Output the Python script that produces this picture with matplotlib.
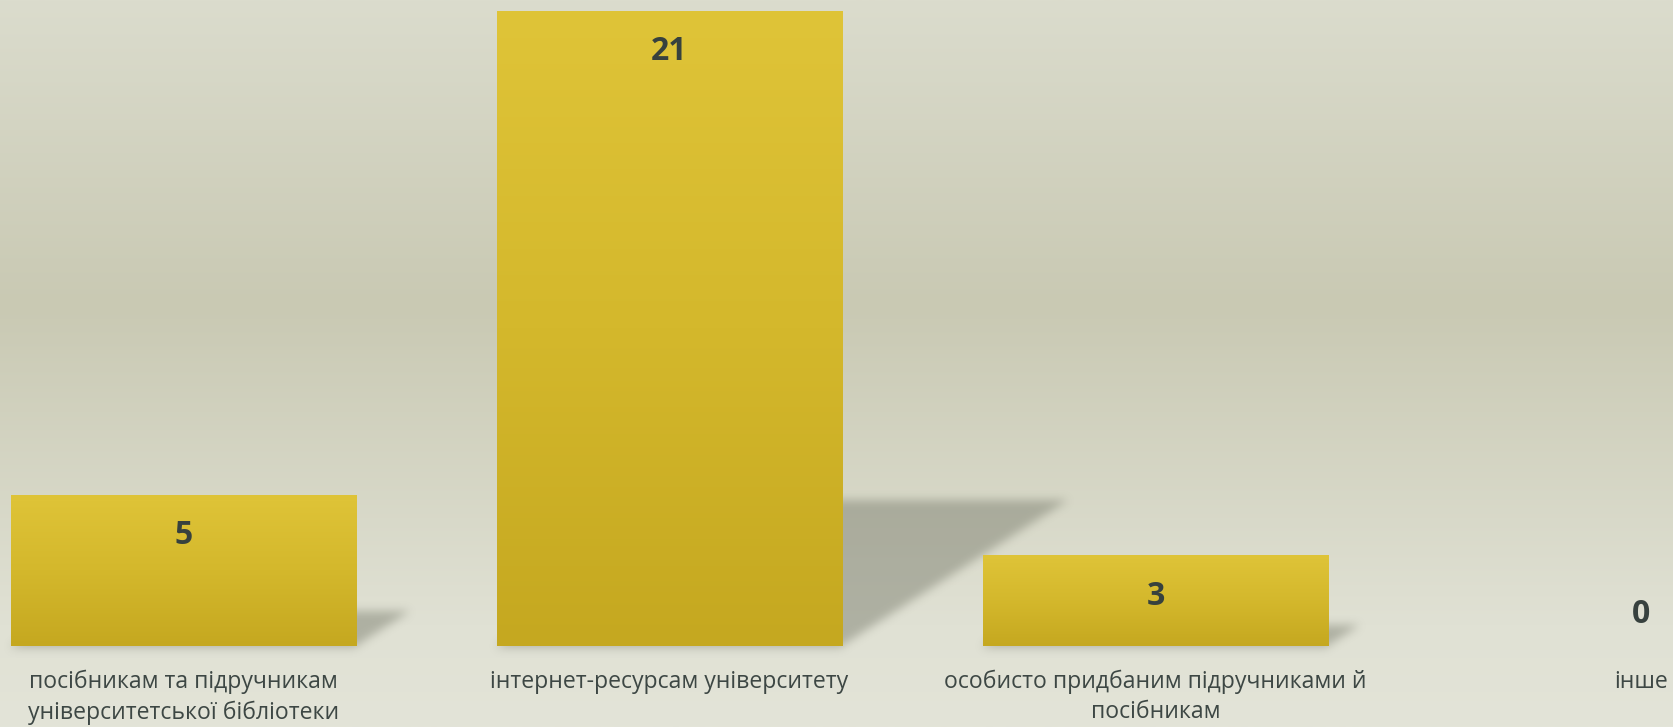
import matplotlib
matplotlib.use("Agg")
import matplotlib.pyplot as plt
from matplotlib.colors import LinearSegmentedColormap
from matplotlib.path import Path
import numpy as np


categories = [
    "посібникам та підручникам\nуніверситетської бібліотеки",
    "інтернет-ресурсам університету",
    "особисто придбаним підручниками й\nпосібникам",
    "інше",
]
values = [5, 21, 3, 0]

W, H, DPI = 1673, 727, 100
XLIM = (-0.3776, 3.065)
YLIM = (-2.68, 21.36)
BAR_W = 0.71
FONT = "Open Sans"
TEXT_COLOR = "#3d4744"


def box_blur(img, r, axis):
    pad = [(0, 0), (0, 0)]
    pad[axis] = (r + 1, r)
    p = np.pad(img, pad, mode="edge")
    c = np.cumsum(p, axis=axis)
    if axis == 0:
        return (c[2 * r + 1:, :] - c[:-2 * r - 1, :]) / (2 * r + 1)
    return (c[:, 2 * r + 1:] - c[:, :-2 * r - 1]) / (2 * r + 1)


def main():
    fig = plt.figure(figsize=(W / DPI, H / DPI), dpi=DPI)

    # background gradient
    bg = fig.add_axes([0, 0, 1, 1], zorder=0)
    bg.axis("off")
    bg_cmap = LinearSegmentedColormap.from_list(
        "bg",
        [(0.0, "#dbdccd"), (0.42, "#c9c9b3"), (0.86, "#e0e1d4"), (1.0, "#e3e4d8")],
    )
    grad = np.linspace(0, 1, 256).reshape(-1, 1)
    bg.imshow(grad, cmap=bg_cmap, aspect="auto", extent=[0, 1, 1, 0])
    bg.set_xlim(0, 1)
    bg.set_ylim(1, 0)

    ax = fig.add_axes([0, 0, 1, 1], zorder=1)
    ax.set_xlim(*XLIM)
    ax.set_ylim(*YLIM)
    ax.axis("off")
    ax.patch.set_alpha(0)

    x = np.arange(len(categories))

    # perspective shadows (blurred)
    xs = np.linspace(XLIM[0], XLIM[1], W)
    ys = np.linspace(YLIM[1], YLIM[0], H)
    gx, gy = np.meshgrid(xs, ys)
    pts = np.column_stack([gx.ravel(), gy.ravel()])
    mask = np.zeros(gx.size)
    for xi, v in zip(x, values):
        if v <= 0:
            continue
        x0, x1 = xi - BAR_W / 2, xi + BAR_W / 2
        dx = 0.0222 * v
        dy = 0.23 * v
        poly = Path([(x0, 0), (x1, 0), (x1 + dx, dy), (x0 + dx, dy), (x0, 0)])
        mask = np.maximum(mask, poly.contains_points(pts).astype(float))
        under = Path([(x0, -0.12), (x1, -0.12), (x1, 0), (x0, 0), (x0, -0.12)])
        mask = np.maximum(mask, 0.35 * under.contains_points(pts))
    mask = mask.reshape(H, W)
    for _ in range(3):
        mask = box_blur(mask, 4, 0)
        mask = box_blur(mask, 4, 1)
    shadow = np.zeros((H, W, 4))
    shadow[..., 0] = 0.45
    shadow[..., 1] = 0.46
    shadow[..., 2] = 0.40
    shadow[..., 3] = mask * 0.45
    ax.imshow(shadow, extent=[XLIM[0], XLIM[1], YLIM[0], YLIM[1]],
              aspect="auto", zorder=1, interpolation="bilinear")

    # bars with vertical gold gradient
    bars = ax.bar(x, values, width=BAR_W, color="none", edgecolor="none", zorder=2)
    bar_cmap = LinearSegmentedColormap.from_list("gold", ["#c5a820", "#d4b82c", "#dfc438"])
    for b, v in zip(bars, values):
        if v <= 0:
            continue
        bx, bw = b.get_x(), b.get_width()
        im = ax.imshow(np.linspace(0, 1, 256).reshape(-1, 1), cmap=bar_cmap,
                       origin="lower", aspect="auto",
                       extent=[bx, bx + bw, 0, v], zorder=2)
        im.set_clip_path(b)

    ax.set_xlim(*XLIM)
    ax.set_ylim(*YLIM)

    # value labels
    for xi, v in zip(x, values):
        off = -41 if v > 0 else 31
        ax.annotate(str(v), (xi, v), xytext=(0, off * 0.72), textcoords="offset points",
                    ha="center", va="center", fontsize=23, fontweight="bold",
                    color="#37413e", family=FONT, zorder=3)

    # category labels
    for xi, lab in zip(x, categories):
        ax.annotate(lab, (xi, 0), xytext=(0, -24 * 0.72), textcoords="offset points",
                    ha="center", va="top", fontsize=16.6, color=TEXT_COLOR,
                    family=FONT, linespacing=1.33, zorder=3)

    fig.savefig("out.png", dpi=DPI)


if __name__ == "__main__":
    main()
